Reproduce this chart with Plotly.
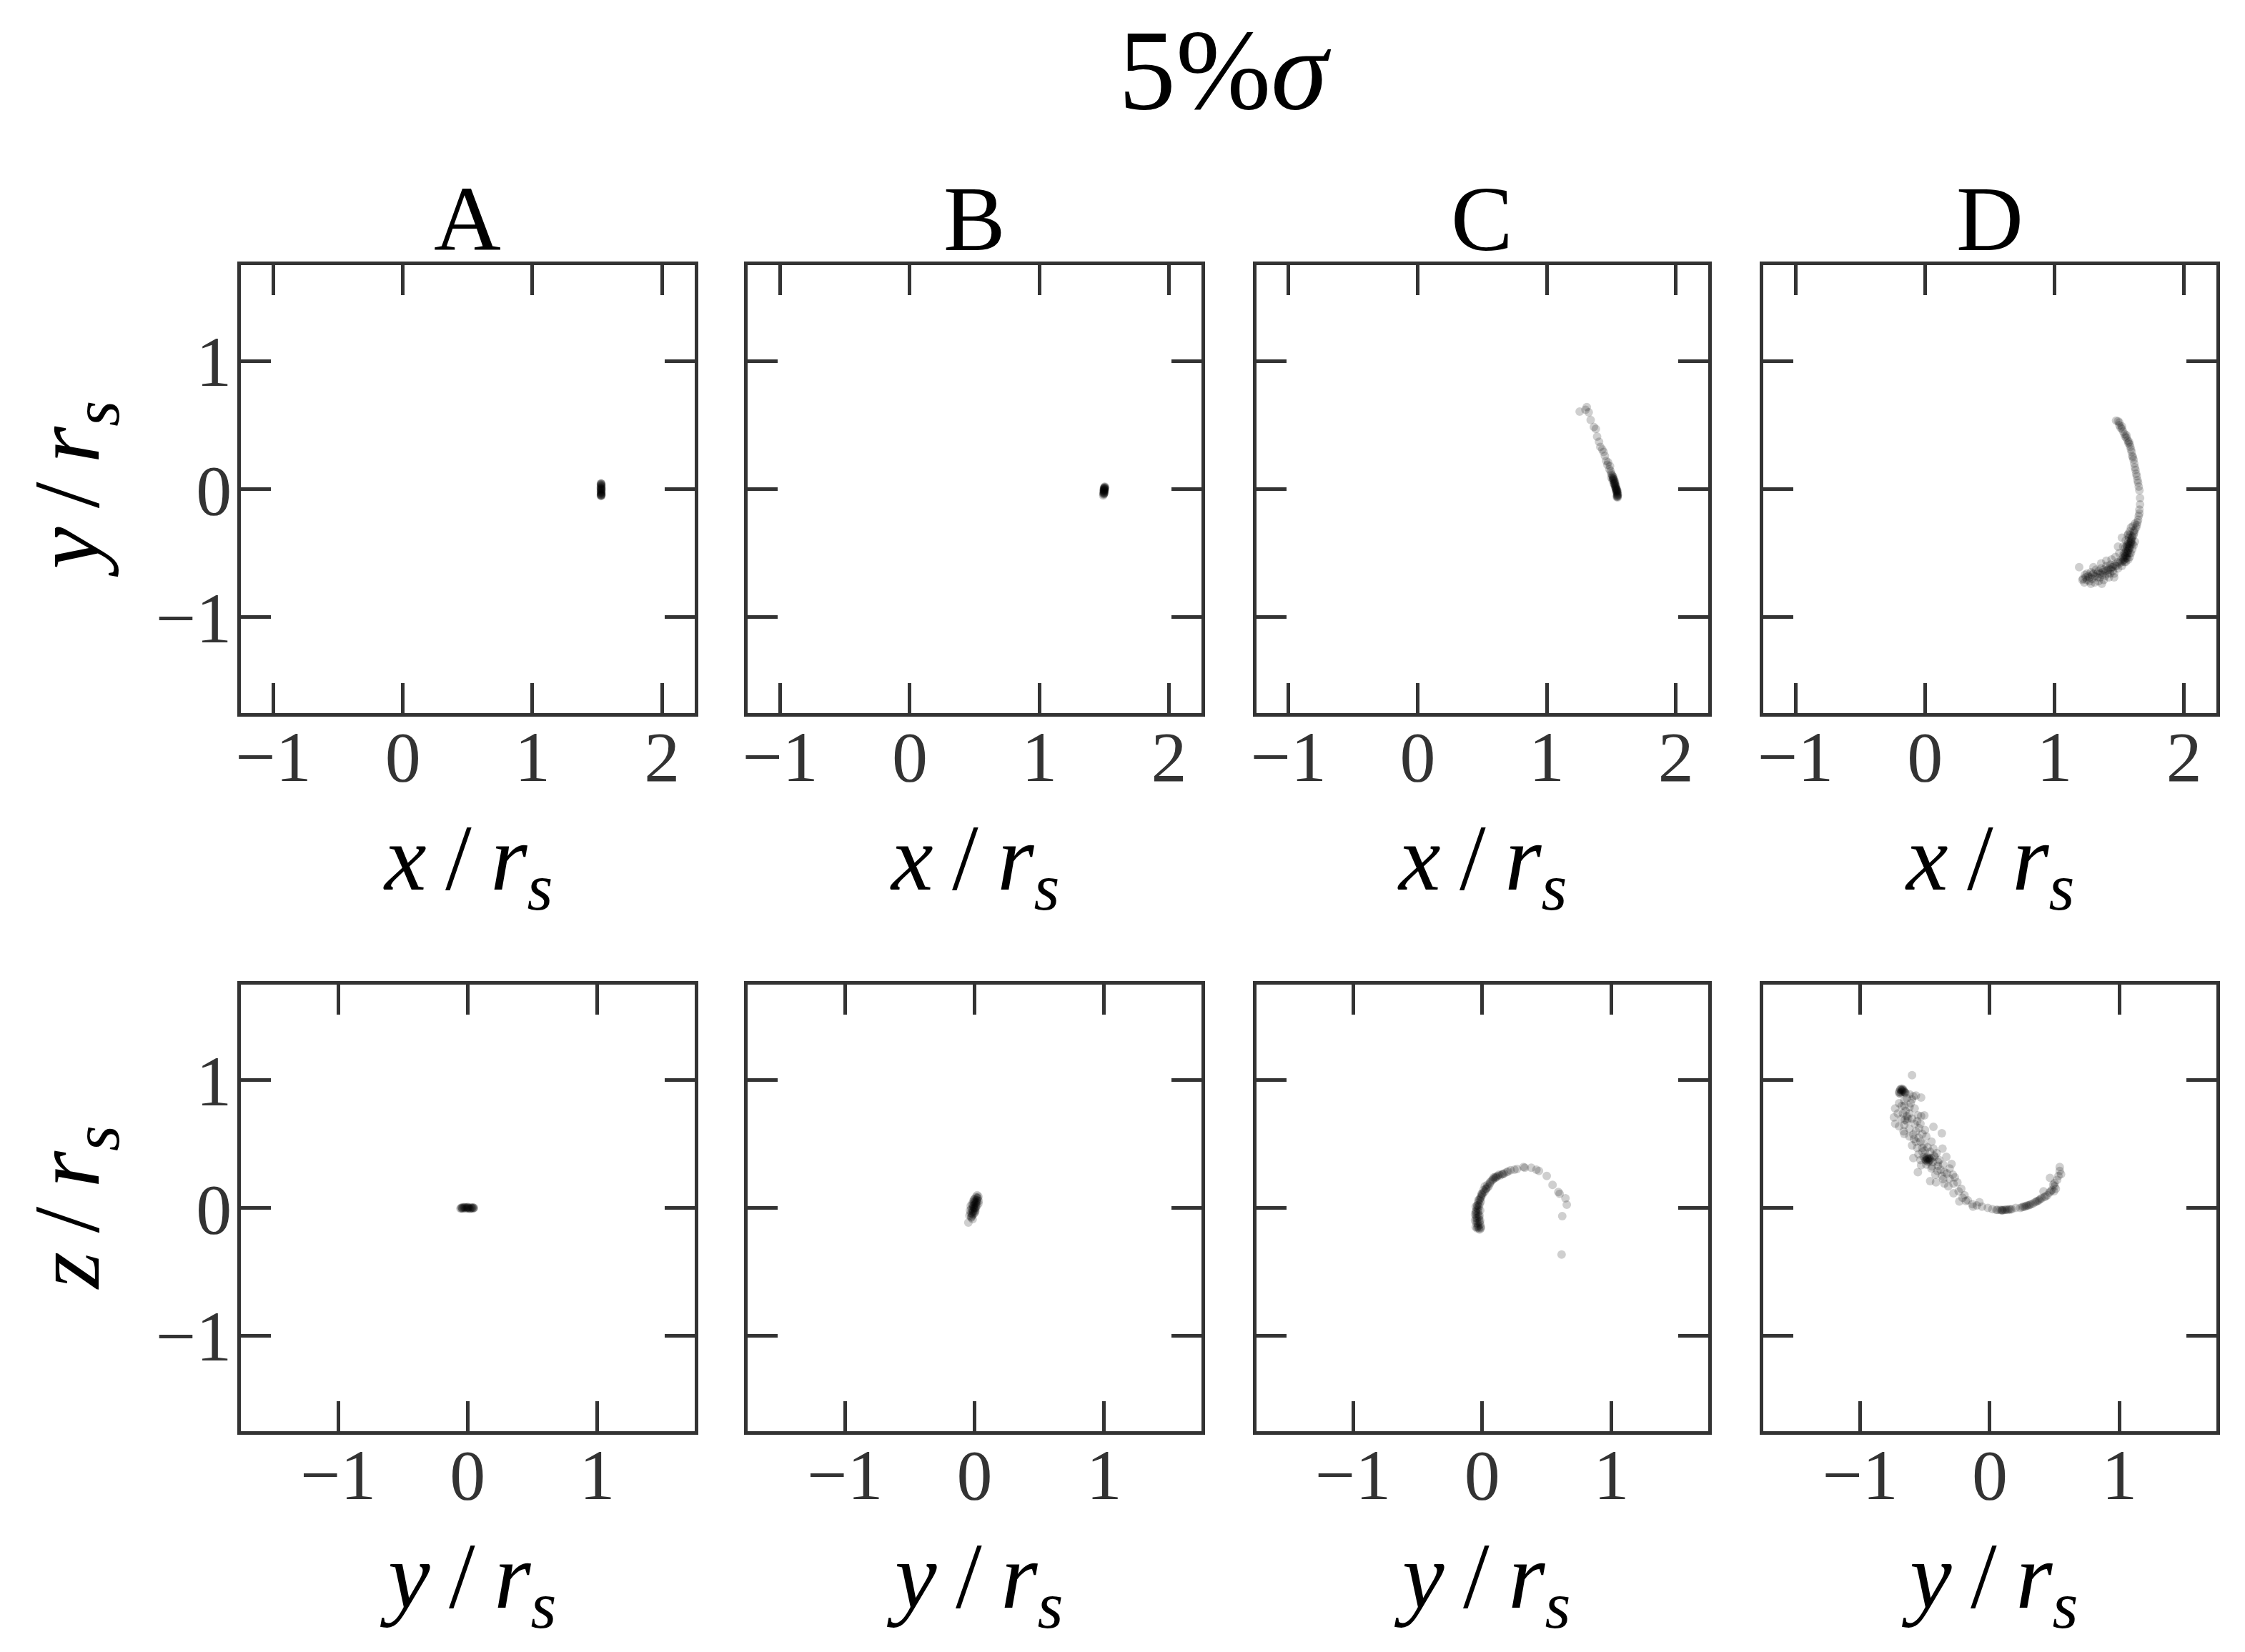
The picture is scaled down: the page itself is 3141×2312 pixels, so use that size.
import plotly.graph_objects as go

# ---------------- data ----------------
TITLE = "5%<i>σ</i>"
COLUMNS = ["A", "B", "C", "D"]
TS = "\u2009"
TOP_XLABEL = "<i>x</i>" + TS + "/" + TS + "<i>r</i><sub><i>s</i></sub>"
TOP_YLABEL = "<i>y</i>" + TS + "/" + TS + "<i>r</i><sub><i>s</i></sub>"
BOT_XLABEL = "<i>y</i>" + TS + "/" + TS + "<i>r</i><sub><i>s</i></sub>"
BOT_YLABEL = "<i>z</i>" + TS + "/" + TS + "<i>r</i><sub><i>s</i></sub>"

TOP_XTICKS = [-1, 0, 1, 2]
TOP_XTICKTEXT = ["−1", "0", "1", "2"]
TOP_YTICKS = [-1, 0, 1]
TOP_YTICKTEXT = ["−1", "0", "1"]
BOT_XTICKS = [-1, 0, 1]
BOT_XTICKTEXT = ["−1", "0", "1"]
BOT_YTICKS = [-1, 0, 1]
BOT_YTICKTEXT = ["−1", "0", "1"]
TOP_XRANGE = [-1.25, 2.25]
TOP_YRANGE = [-1.75, 1.75]
BOT_XRANGE = [-1.75, 1.75]
BOT_YRANGE = [-1.75, 1.75]

# x-y plane (top row), points (x, y)
A_xy = [(1.530, 0.045), (1.532, 0.040), (1.528, 0.036), (1.531, 0.028), (1.529, 0.022),
        (1.533, 0.018), (1.530, 0.013), (1.527, 0.008), (1.531, 0.004), (1.534, 0.000),
        (1.529, -0.004), (1.530, -0.008), (1.532, -0.013), (1.528, -0.018), (1.531, -0.022),
        (1.530, -0.026), (1.529, -0.030), (1.533, -0.034), (1.530, -0.038), (1.531, -0.042),
        (1.528, -0.046), (1.532, -0.048), (1.530, -0.050), (1.529, -0.055), (1.531, 0.032),
        (1.530, 0.000), (1.529, 0.043), (1.531, -0.050)]
B_xy = [(1.505, 0.020), (1.503, 0.016), (1.508, 0.012), (1.500, 0.010), (1.504, 0.006),
        (1.498, 0.004), (1.502, 0.000), (1.506, -0.002), (1.499, -0.006), (1.501, -0.010),
        (1.497, -0.013), (1.503, -0.015), (1.500, -0.019), (1.496, -0.023), (1.499, -0.027),
        (1.502, -0.030), (1.495, -0.034), (1.498, -0.038), (1.493, -0.050), (1.496, -0.042),
        (1.502, 0.008), (1.500, -0.012), (1.499, -0.004), (1.501, -0.034)]
C_xy = [(1.255, 0.606), (1.310, 0.640), (1.300, 0.620), (1.325, 0.600), (1.340, 0.540),
        (1.365, 0.485), (1.380, 0.470), (1.390, 0.410), (1.405, 0.370), (1.415, 0.330),
        (1.430, 0.310), (1.450, 0.260), (1.460, 0.220), (1.470, 0.190), (1.485, 0.155),
        (1.500, 0.120), (1.495, 0.140), (1.505, 0.110), (1.510, 0.100), (1.500, 0.090),
        (1.515, 0.080), (1.520, 0.060), (1.510, 0.070), (1.525, 0.050), (1.530, 0.030),
        (1.520, 0.040), (1.535, 0.010), (1.540, 0.000), (1.530, 0.020), (1.545, -0.010),
        (1.540, -0.020), (1.548, -0.030), (1.545, -0.040), (1.550, -0.050), (1.542, -0.060),
        (1.548, -0.065), (1.536, 0.000), (1.528, 0.060), (1.518, 0.080), (1.522, 0.045),
        (1.532, 0.015), (1.538, -0.010), (1.543, -0.030), (1.546, -0.048), (1.526, 0.035),
        (1.515, 0.095), (1.534, 0.005), (1.541, -0.015), (1.549, -0.058), (1.512, 0.085),
        (1.520, 0.070), (1.530, 0.045), (1.536, 0.025), (1.544, -0.005), (1.547, -0.020),
        (1.551, -0.040), (1.545, -0.055), (1.490, 0.180), (1.475, 0.210), (1.440, 0.290)]
D_xy = [(1.475, 0.535), (1.490, 0.530), (1.500, 0.500), (1.510, 0.480), (1.520, 0.470),
        (1.530, 0.450), (1.540, 0.430), (1.545, 0.410), (1.555, 0.400), (1.565, 0.380),
        (1.570, 0.360), (1.580, 0.350), (1.585, 0.330), (1.590, 0.310), (1.595, 0.290),
        (1.600, 0.260), (1.610, 0.230), (1.615, 0.200), (1.620, 0.170), (1.625, 0.150),
        (1.630, 0.120), (1.635, 0.100), (1.640, 0.070), (1.645, 0.050), (1.650, 0.020),
        (1.655, -0.010), (1.660, -0.070), (1.660, -0.120), (1.655, -0.160), (1.655, -0.190),
        (1.650, -0.210), (1.645, -0.240), (1.640, -0.260), (1.635, -0.280), (1.630, -0.300),
        (1.620, -0.320), (1.615, -0.340), (1.610, -0.360), (1.600, -0.380), (1.595, -0.400),
        (1.590, -0.420), (1.585, -0.440), (1.580, -0.460), (1.570, -0.480), (1.565, -0.500),
        (1.560, -0.520), (1.550, -0.540), (1.540, -0.550), (1.530, -0.560), (1.520, -0.570),
        (1.500, -0.580), (1.480, -0.600), (1.460, -0.590), (1.440, -0.610), (1.420, -0.620),
        (1.400, -0.600), (1.380, -0.630), (1.360, -0.620), (1.340, -0.640), (1.320, -0.630),
        (1.300, -0.660), (1.280, -0.650), (1.260, -0.680), (1.240, -0.690), (1.220, -0.700),
        (1.215, -0.710), (1.250, -0.710), (1.290, -0.700), (1.330, -0.690), (1.370, -0.670),
        (1.410, -0.660), (1.450, -0.640), (1.490, -0.620), (1.310, -0.730), (1.365, -0.740),
        (1.270, -0.720), (1.190, -0.610), (1.360, -0.580), (1.400, -0.560), (1.440, -0.550),
        (1.470, -0.530), (1.520, -0.380), (1.490, -0.450), (1.500, -0.500), (1.530, -0.520),
        (1.350, -0.660), (1.390, -0.680), (1.430, -0.630), (1.460, -0.660), (1.300, -0.610),
        (1.570, -0.350), (1.575, -0.380), (1.570, -0.410), (1.565, -0.430), (1.560, -0.450),
        (1.555, -0.470), (1.550, -0.490), (1.545, -0.510), (1.540, -0.530), (1.580, -0.420),
        (1.575, -0.460), (1.565, -0.480), (1.560, -0.500), (1.550, -0.520), (1.590, -0.390),
        (1.555, -0.440), (1.545, -0.460), (1.535, -0.500), (1.530, -0.540), (1.585, -0.360),
        (1.500, 0.520), (1.520, 0.490), (1.555, 0.420), (1.575, 0.370), (1.605, 0.250),
        (1.600, -0.370), (1.610, -0.330), (1.590, -0.410), (1.575, -0.440), (1.235, -0.670),
        (1.250, -0.660), (1.270, -0.690), (1.290, -0.670), (1.310, -0.680), (1.330, -0.660),
        (1.350, -0.690), (1.370, -0.650), (1.390, -0.640), (1.410, -0.630), (1.430, -0.660),
        (1.450, -0.610), (1.470, -0.600), (1.490, -0.570), (1.510, -0.560), (1.430, -0.590),
        (1.380, -0.710), (1.340, -0.720), (1.280, -0.740), (1.230, -0.730), (1.460, -0.690),
        (1.420, -0.690), (1.520, -0.600), (1.550, -0.570), (1.570, -0.550), (1.580, -0.530),
        (1.590, -0.500), (1.600, -0.470), (1.610, -0.440), (1.620, -0.410), (1.600, -0.430),
        (1.580, -0.500), (1.560, -0.540), (1.540, -0.570), (1.530, -0.450), (1.550, -0.400),
        (1.565, -0.360), (1.580, -0.330), (1.590, -0.300), (1.605, -0.290), (1.620, -0.270)]

# y-z plane (bottom row), points (y, z)
A_yz = [(-0.050, -0.003), (-0.046, 0.004), (-0.040, -0.005), (-0.035, 0.005), (-0.030, -0.002),
        (-0.020, 0.004), (-0.015, -0.006), (-0.010, 0.003), (0.000, -0.004), (0.005, 0.006),
        (0.010, 0.000), (0.020, -0.005), (0.025, 0.004), (0.030, -0.003), (0.038, 0.004),
        (0.042, -0.005), (0.046, 0.002), (0.048, 0.000), (-0.025, 0.006), (0.015, -0.007),
        (-0.005, 0.007), (0.035, 0.000), (-0.043, -0.002), (0.000, 0.002), (-0.056, -0.004)]
B_yz = [(0.020, 0.100), (0.030, 0.088), (0.010, 0.085), (0.025, 0.075), (0.000, 0.070),
        (0.020, 0.060), (0.032, 0.055), (-0.010, 0.050), (0.015, 0.045), (0.030, 0.035),
        (-0.020, 0.030), (0.000, 0.025), (0.020, 0.020), (-0.030, 0.015), (-0.010, 0.010),
        (0.010, 0.000), (-0.025, -0.005), (0.000, -0.010), (-0.036, -0.020), (-0.015, -0.025),
        (0.005, -0.030), (-0.030, -0.040), (-0.010, -0.050), (-0.040, -0.060), (-0.025, -0.075),
        (-0.015, -0.088), (-0.048, -0.115), (0.010, 0.040), (-0.005, 0.000), (-0.020, -0.060),
        (0.000, 0.050), (0.010, 0.030), (-0.010, 0.020), (0.000, 0.000), (0.005, -0.020),
        (-0.010, -0.030), (-0.020, -0.045), (0.015, 0.060), (0.020, 0.080), (-0.005, 0.065),
        (-0.015, -0.010), (-0.025, -0.070), (0.000, -0.040), (0.010, 0.010), (-0.005, 0.040)]
C_yz = [(0.155, 0.265), (0.190, 0.280), (0.220, 0.295), (0.250, 0.300), (0.270, 0.305),
        (0.320, 0.320), (0.330, 0.315), (0.380, 0.315), (0.420, 0.300), (0.440, 0.290),
        (0.500, 0.250), (0.545, 0.180), (0.590, 0.125), (0.600, 0.110), (0.645, 0.075),
        (0.655, 0.025), (0.620, -0.065), (0.615, -0.365),
        (0.060, 0.200), (0.080, 0.220), (0.100, 0.235), (0.120, 0.250), (0.140, 0.255),
        (0.170, 0.270), (0.040, 0.180), (0.030, 0.150), (0.050, 0.170), (0.090, 0.240),
        (0.130, 0.260), (0.160, 0.265), (0.070, 0.210), (0.110, 0.240),
        (0.020, 0.130), (0.010, 0.120), (0.000, 0.100), (-0.010, 0.080), (-0.020, 0.060),
        (-0.030, 0.040), (-0.035, 0.020), (-0.040, 0.000), (-0.045, -0.020), (-0.045, -0.040),
        (-0.045, -0.060), (-0.040, -0.080), (-0.040, -0.100), (-0.035, -0.120), (-0.030, -0.140),
        (-0.025, -0.160), (-0.020, -0.170), (0.000, 0.110), (-0.010, 0.090), (-0.020, 0.070),
        (-0.020, 0.030), (-0.025, 0.010), (-0.030, -0.010), (-0.030, -0.030), (-0.030, -0.050),
        (-0.025, -0.070), (-0.025, -0.090), (-0.020, -0.110), (-0.015, -0.130), (-0.010, -0.150),
        (-0.055, -0.050), (-0.055, -0.100), (-0.050, -0.150), (0.030, 0.150), (-0.010, 0.050),
        (-0.015, -0.020), (-0.020, -0.060), (-0.015, -0.100), (-0.040, -0.160), (-0.050, 0.010),
        (0.010, 0.140), (-0.005, 0.110), (-0.030, 0.060), (-0.040, 0.020), (-0.050, -0.030),
        (-0.050, -0.080), (-0.045, -0.120), (-0.035, -0.150), (-0.010, -0.160), (0.020, 0.170),
        (0.040, 0.160), (0.060, 0.190), (0.085, 0.225), (0.105, 0.245), (0.200, 0.285)]
D_yz = [(-0.600, 1.040),
        (-0.690, 0.930), (-0.680, 0.920), (-0.670, 0.930), (-0.660, 0.910), (-0.700, 0.910),
        (-0.685, 0.905), (-0.675, 0.925), (-0.650, 0.900), (-0.690, 0.895),
        (-0.690, 0.925), (-0.675, 0.910), (-0.665, 0.920), (-0.700, 0.900), (-0.680, 0.935),
        (-0.655, 0.905),
        (-0.620, 0.890), (-0.590, 0.875), (-0.570, 0.880), (-0.530, 0.865), (-0.640, 0.860),
        (-0.600, 0.850), (-0.660, 0.840),
        (-0.730, 0.780), (-0.650, 0.760), (-0.680, 0.800), (-0.620, 0.790), (-0.555, 0.725),
        (-0.505, 0.725), (-0.530, 0.720), (-0.670, 0.740), (-0.640, 0.720),
        (-0.730, 0.660), (-0.655, 0.690), (-0.535, 0.660), (-0.435, 0.635), (-0.665, 0.600),
        (-0.590, 0.575), (-0.545, 0.625), (-0.490, 0.560), (-0.370, 0.585), (-0.585, 0.540),
        (-0.600, 0.490), (-0.535, 0.520), (-0.480, 0.475), (-0.435, 0.465), (-0.365, 0.465),
        (-0.630, 0.700), (-0.660, 0.650), (-0.620, 0.620), (-0.570, 0.600), (-0.500, 0.610),
        (-0.550, 0.550), (-0.510, 0.500), (-0.560, 0.470), (-0.450, 0.520), (-0.660, 0.580),
        (-0.740, 0.710), (-0.700, 0.640),
        (-0.620, 0.740), (-0.600, 0.700), (-0.580, 0.660), (-0.640, 0.680), (-0.620, 0.560),
        (-0.570, 0.520), (-0.520, 0.470), (-0.500, 0.450), (-0.460, 0.440), (-0.430, 0.410),
        (-0.700, 0.820), (-0.660, 0.800), (-0.610, 0.820), (-0.710, 0.740), (-0.680, 0.700),
        (-0.580, 0.780), (-0.560, 0.680), (-0.520, 0.580),
        (-0.480, 0.380), (-0.470, 0.390), (-0.490, 0.370), (-0.500, 0.385), (-0.460, 0.375),
        (-0.485, 0.400), (-0.475, 0.360), (-0.450, 0.390), (-0.510, 0.400), (-0.440, 0.360),
        (-0.480, 0.385), (-0.470, 0.370), (-0.490, 0.390), (-0.465, 0.385), (-0.495, 0.375),
        (-0.590, 0.390), (-0.535, 0.375), (-0.425, 0.400), (-0.390, 0.375), (-0.335, 0.400),
        (-0.530, 0.335), (-0.445, 0.325), (-0.555, 0.280), (-0.405, 0.290), (-0.350, 0.280),
        (-0.295, 0.345), (-0.285, 0.260), (-0.460, 0.210), (-0.415, 0.200), (-0.360, 0.225),
        (-0.320, 0.170), (-0.280, 0.190), (-0.220, 0.150), (-0.280, 0.115), (-0.195, 0.100),
        (-0.235, 0.050), (-0.185, 0.055), (-0.135, 0.030), (-0.080, 0.045), (-0.130, 0.010),
        (-0.400, 0.330), (-0.380, 0.300), (-0.420, 0.260), (-0.370, 0.250), (-0.330, 0.270),
        (-0.310, 0.230), (-0.350, 0.190), (-0.410, 0.430), (-0.520, 0.440), (-0.550, 0.420),
        (-0.490, 0.340), (-0.450, 0.310), (-0.400, 0.360), (-0.360, 0.340), (-0.310, 0.310),
        (-0.270, 0.240), (-0.250, 0.200), (-0.240, 0.130), (-0.210, 0.080), (-0.170, 0.060),
        (-0.100, 0.020), (-0.060, 0.010),
        (-0.015, 0.000), (0.020, -0.010), (0.050, -0.015), (0.080, -0.015), (0.095, -0.015),
        (0.110, -0.015), (0.130, -0.012), (0.150, -0.010), (0.160, -0.012), (0.200, 0.000),
        (0.235, 0.000), (0.260, 0.010), (0.280, 0.015), (0.300, 0.020), (0.320, 0.030),
        (0.335, 0.035), (0.360, 0.050), (0.380, 0.060), (0.400, 0.075), (0.420, 0.085),
        (0.445, 0.100), (0.415, 0.130), (0.460, 0.120), (0.480, 0.140), (0.495, 0.130),
        (0.500, 0.170), (0.465, 0.235), (0.500, 0.195), (0.540, 0.320), (0.550, 0.265),
        (0.540, 0.290), (0.100, -0.020), (0.140, -0.015), (0.310, 0.025), (0.390, 0.070),
        (0.060, -0.015), (0.090, -0.020), (0.120, -0.015), (0.170, -0.010), (0.250, 0.005),
        (0.270, 0.010), (0.290, 0.020), (0.350, 0.045), (0.370, 0.055), (0.430, 0.090),
        (0.470, 0.130), (0.520, 0.220), (0.530, 0.250), (0.490, 0.180), (0.510, 0.150)]

TOP_POINTS = [A_xy, B_xy, C_xy, D_xy]
BOT_POINTS = [A_yz, B_yz, C_yz, D_yz]

# ---------------- layout geometry ----------------
W, H = 3141, 2312
COL_PX = [(330, 966), (1041, 1677), (1754, 2388), (2465, 3101)]
ROW_PX = [(371, 998), (1378, 2003)]


def fx(p):
    return p / W


def fy(p):
    return 1 - p / H


AXCOL = "#333333"
FONT = "Liberation Serif"
MARKER = dict(size=12, color="rgba(0,0,0,0.19)", line=dict(width=0))

fig = go.Figure()
layout = dict(
    width=W, height=H, margin=dict(l=0, r=0, t=0, b=0),
    paper_bgcolor="white", plot_bgcolor="white", showlegend=False,
    font=dict(family=FONT, color="black"),
)

annotations = []
for r in range(2):
    for c in range(4):
        n = r * 4 + c + 1
        sfx = "" if n == 1 else str(n)
        pts = TOP_POINTS[c] if r == 0 else BOT_POINTS[c]
        fig.add_trace(go.Scatter(
            x=[p[0] for p in pts], y=[p[1] for p in pts], mode="markers",
            marker=MARKER, hoverinfo="skip",
            xaxis="x" + sfx, yaxis="y" + sfx,
        ))
        common = dict(
            showline=True, linecolor=AXCOL, linewidth=5, mirror="ticks",
            ticks="inside", ticklen=42, tickwidth=5, tickcolor=AXCOL,
            showgrid=False, zeroline=False, fixedrange=True,
            tickfont=dict(family=FONT, size=100, color=AXCOL),
        )
        l, rr = COL_PX[c]
        t, b = ROW_PX[r]
        layout["xaxis" + sfx] = dict(
            common, domain=[fx(l), fx(rr)], anchor="y" + sfx,
            range=TOP_XRANGE if r == 0 else BOT_XRANGE,
            tickmode="array",
            tickvals=TOP_XTICKS if r == 0 else BOT_XTICKS,
            ticktext=TOP_XTICKTEXT if r == 0 else BOT_XTICKTEXT,
            ticklabelstandoff=-30,
        )
        layout["yaxis" + sfx] = dict(
            common, domain=[fy(b), fy(t)], anchor="x" + sfx,
            range=TOP_YRANGE if r == 0 else BOT_YRANGE,
            tickmode="array",
            tickvals=TOP_YTICKS if r == 0 else BOT_YTICKS,
            ticktext=TOP_YTICKTEXT if r == 0 else BOT_YTICKTEXT,
            showticklabels=(c == 0), ticklabelstandoff=-12,
        )
        # x axis label
        annotations.append(dict(
            text=TOP_XLABEL if r == 0 else BOT_XLABEL,
            x=fx((l + rr) / 2), y=fy(b + 212), xref="paper", yref="paper",
            xanchor="center", yanchor="middle", showarrow=False,
            font=dict(family=FONT, size=132, color="black"),
        ))
        if c == 0:
            annotations.append(dict(
                text=TOP_YLABEL if r == 0 else BOT_YLABEL,
                x=fx(95), y=fy((t + b) / 2), xref="paper", yref="paper",
                xanchor="center", yanchor="middle", showarrow=False, textangle=-90,
                font=dict(family=FONT, size=132, color="black"),
            ))
        if r == 0:
            annotations.append(dict(
                text=COLUMNS[c], x=fx((l + rr) / 2), y=fy(306),
                xref="paper", yref="paper", xanchor="center", yanchor="middle",
                showarrow=False, font=dict(family=FONT, size=130, color="black"),
            ))

annotations.append(dict(
    text=TITLE, x=fx(1710), y=fy(98), xref="paper", yref="paper",
    xanchor="center", yanchor="middle", showarrow=False,
    font=dict(family=FONT, size=160, color="black"),
))
layout["annotations"] = annotations
fig.update_layout(**layout)
fig.write_html("out.html")
